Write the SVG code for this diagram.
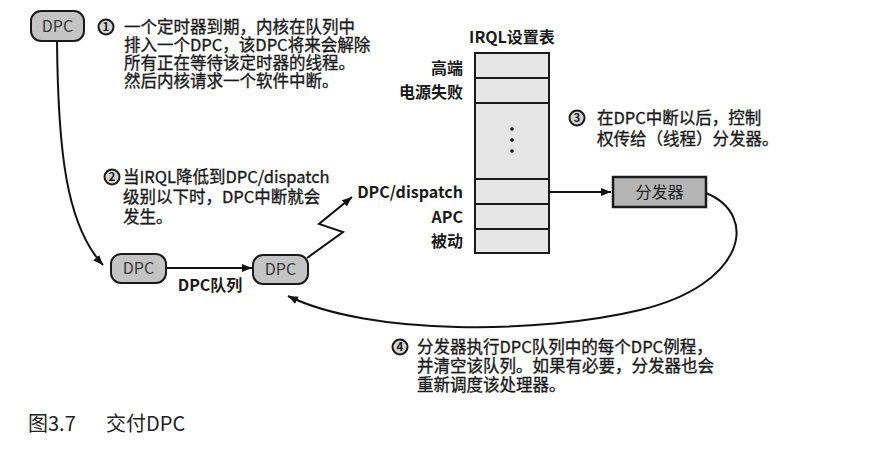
<svg xmlns="http://www.w3.org/2000/svg" width="891" height="460" viewBox="0 0 891 460">
<defs>
<marker id="ah" markerUnits="userSpaceOnUse" markerWidth="12" markerHeight="10" refX="10" refY="5" orient="auto">
<path d="M0,1 L10,5 L0,9 Z" fill="#111"/>
</marker>
</defs>
<style>
text{font-family:"Noto Sans CJK SC","Noto Sans",sans-serif;fill:#1a1a1a}
.t{font-size:16.5px;stroke:#1a1a1a;stroke-width:0.35}
.b{font-size:16px;font-weight:bold}
.n{font-size:16px;fill:#383838;text-anchor:middle}
.node{fill:#c4c4c4;stroke:#1a1a1a;stroke-width:2}
.cell{fill:#e6e6e6;stroke:#1a1a1a;stroke-width:2}
.num{fill:#d4d4d4;stroke:#1a1a1a;stroke-width:2}
.nt{font-size:11.5px;font-weight:bold;text-anchor:middle}
.ln{fill:none;stroke:#111;stroke-width:2}
.r{text-anchor:end}
</style>
<rect width="891" height="460" fill="#fff"/>

<g id="connectors">
<path class="ln" d="M57,41 C58,150 66,225 103,265" marker-end="url(#ah)"/>
<path class="ln" d="M166,268 L252,268" marker-end="url(#ah)"/>
<path class="ln" d="M307,258 L343,232 L319,224 L352,197" marker-end="url(#ah)"/>
<path class="ln" d="M512,192 L611,192" marker-end="url(#ah)"/>
<path class="ln" d="M706,193 C760,215 745,285 640,310 C540,334 370,336 288,296" marker-end="url(#ah)"/>
<circle cx="512" cy="192" r="3.5" fill="#111"/>
</g>

<g id="dpc-top">
<rect class="node" x="31" y="11" width="53" height="30" rx="10"/>
<text class="n" x="57.5" y="32">DPC</text>
</g>

<g id="step1">
<circle class="num" cx="106" cy="27" r="7.5"/>
<text class="nt" x="106" y="31">1</text>
<text class="t"><tspan x="124" y="33">一个定时器到期，内核在队列中</tspan><tspan x="124" y="51">排入一个DPC，该DPC将来会解除</tspan><tspan x="124" y="69">所有正在等待该定时器的线程。</tspan><tspan x="124" y="87">然后内核请求一个软件中断。</tspan></text>
</g>

<g id="step2">
<circle class="num" cx="112" cy="177" r="7.5"/>
<text class="nt" x="112" y="181">2</text>
<text class="t"><tspan x="123" y="183">当IRQL降低到DPC/dispatch</tspan><tspan x="123" y="203">级别以下时，DPC中断就会</tspan><tspan x="123" y="223">发生。</tspan></text>
</g>

<g id="dpc-queue-1">
<rect class="node" x="111" y="254" width="55" height="29" rx="10"/>
<text class="n" x="138.5" y="274">DPC</text>
</g>
<text class="b" x="210" y="291" text-anchor="middle">DPC队列</text>

<g id="dpc-queue-2">
<rect class="node" x="253" y="255" width="55" height="29" rx="10"/>
<text class="n" x="280.5" y="275">DPC</text>
</g>

<g id="irql-table">
<text class="b" x="512" y="43" text-anchor="middle">IRQL设置表</text>
<rect class="cell" x="475" y="53" width="74" height="25"/>
<rect class="cell" x="475" y="78" width="74" height="25"/>
<rect class="cell" x="475" y="103" width="74" height="76"/>
<rect class="cell" x="475" y="179" width="74" height="25"/>
<rect class="cell" x="475" y="204" width="74" height="25"/>
<rect class="cell" x="475" y="229" width="74" height="24"/>
<circle cx="512" cy="129" r="1.8" fill="#111"/>
<circle cx="512" cy="140" r="1.8" fill="#111"/>
<circle cx="512" cy="151" r="1.8" fill="#111"/>
<text class="b r" x="463" y="74">高端</text>
<text class="b r" x="463" y="98">电源失败</text>
<text class="b r" x="463" y="198">DPC/dispatch</text>
<text class="b r" x="463" y="223">APC</text>
<text class="b r" x="463" y="247">被动</text>
</g>

<g id="step3">
<circle class="num" cx="577" cy="118" r="7.5"/>
<text class="nt" x="577" y="122">3</text>
<text class="t"><tspan x="597" y="124">在DPC中断以后，控制</tspan><tspan x="597" y="145">权传给（线程）分发器。</tspan></text>
</g>

<g id="dispatcher">
<rect x="613" y="177" width="93" height="30" fill="#b4b4b4" stroke="#1a1a1a" stroke-width="2.5"/>
<text class="n" x="659.5" y="198" style="fill:#222">分发器</text>
</g>

<g id="step4">
<circle class="num" cx="400" cy="347" r="7.5"/>
<text class="nt" x="400" y="351">4</text>
<text class="t"><tspan x="417" y="353">分发器执行DPC队列中的每个DPC例程，</tspan><tspan x="417" y="372">并清空该队列。如果有必要，分发器也会</tspan><tspan x="417" y="391">重新调度该处理器。</tspan></text>
</g>

<text style="font-size:20px;fill:#222"><tspan x="28" y="431">图3.7</tspan><tspan x="106" y="431">交付DPC</tspan></text>
</svg>
